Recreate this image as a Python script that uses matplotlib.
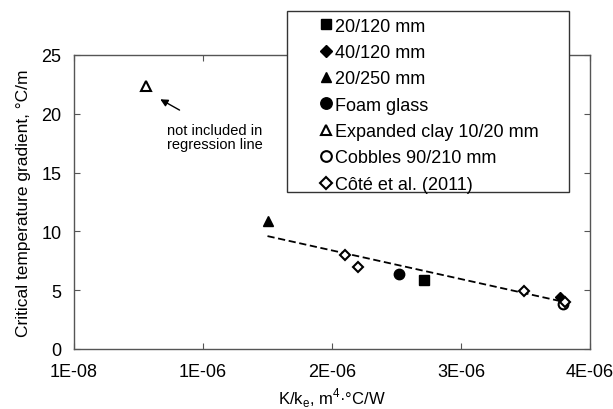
import matplotlib
matplotlib.use("Agg")
import matplotlib.pyplot as plt
from matplotlib.patches import Rectangle

plt.rcParams['font.family'] = ['Liberation Sans', 'DejaVu Sans']

# data (x in m4·°C/W, y in °C/m)
sq_x, sq_y = [2.71e-6], [5.9]
fd_x, fd_y = [3.765e-6], [4.45]
ft_x, ft_y = [1.505e-6], [10.9]
fc_x, fc_y = [2.52e-6], [6.4]
ot_x, ot_y = [0.556e-6], [22.4]
oc_x, oc_y = [3.79e-6], [3.85]
od_x = [2.10e-6, 2.20e-6, 3.49e-6, 3.81e-6]
od_y = [7.97, 6.95, 4.95, 4.0]
reg_x = [1.5e-6, 3.82e-6]
reg_y = [9.6, 3.95]

labels = ['20/120 mm', '40/120 mm', '20/250 mm', 'Foam glass',
          'Expanded clay 10/20 mm', 'Cobbles 90/210 mm', 'Côté et al. (2011)']
xticks = [0, 1e-6, 2e-6, 3e-6, 4e-6]
xticklabels = ['1E-08', '1E-06', '2E-06', '3E-06', '4E-06']
yticks = [0, 5, 10, 15, 20, 25]

fig = plt.figure(figsize=(6.13, 4.10), dpi=100)
ax = fig.add_axes([74/613, 60/410, (590-74)/613, (350-56)/410])

ax.plot(reg_x, reg_y, ls=(0, (4, 2)), color='black', lw=1.3, zorder=2)

h1, = ax.plot(sq_x, sq_y, 's', color='black', ms=7, ls='none')
h2, = ax.plot(fd_x, fd_y, 'D', color='black', ms=5.5, ls='none')
h3, = ax.plot(ft_x, ft_y, '^', color='black', ms=7, ls='none')
h4, = ax.plot(fc_x, fc_y, 'o', color='black', ms=7.5, ls='none')
h5, = ax.plot(ot_x, ot_y, '^', mfc='white', mec='black', mew=1.5, ms=7, ls='none')
h6, = ax.plot(oc_x, oc_y, 'o', mfc='white', mec='black', mew=1.5, ms=7, ls='none')
h7, = ax.plot(od_x, od_y, 'D', mfc='white', mec='black', mew=1.5, ms=5.5, ls='none')

ax.set_xlim(0, 4e-6)
ax.set_ylim(0, 25)
ax.set_xticks(xticks)
ax.set_xticklabels(xticklabels)
ax.set_yticks(yticks)
ax.tick_params(direction='in', top=True, right=True, labelsize=13,
               length=4, color='#555555')
ax.tick_params(axis='x', pad=10)
ax.tick_params(axis='y', pad=9)
for s in ax.spines.values():
    s.set_color('#555555')
    s.set_linewidth(1.0)

ax.set_ylabel('Critical temperature gradient, °C/m', fontsize=12.5)
ax.yaxis.set_label_coords(-(74 - 24) / 516, 0.5)
ax.set_xlabel('K/k$_\\mathregular{e}$, m$^\\mathregular{4}$·°C/W', fontsize=12)
ax.xaxis.set_label_coords(0.5, -(398 - 350) / 294)
ax.xaxis.label.set_va('center')
ax.yaxis.label.set_va('center')

ax.annotate('', xy=(0.65e-6, 21.35), xytext=(0.837e-6, 20.2),
            arrowprops=dict(arrowstyle='-|>', color='black', lw=1.0,
                            mutation_scale=11))
ax.text(0.72e-6, 18.0, 'not included in\nregression line', fontsize=10.5,
        va='center', ha='left', linespacing=1.0)

# legend box
fig.patches.append(Rectangle((287/613, 1 - 193/410), (569-287)/613, (193-12)/410,
                             transform=fig.transFigure, fill=True, facecolor='white',
                             edgecolor='#333333', lw=1.0, zorder=5))
leg = fig.legend([h1, h2, h3, h4, h5, h6, h7], labels,
                 loc='upper left', bbox_to_anchor=(319.7/613, 1 - 18.5/410),
                 frameon=False, fontsize=13,
                 handlelength=0.7, handletextpad=0.15, labelspacing=0.52,
                 borderpad=0, markerscale=1.1, borderaxespad=0)
leg.set_zorder(6)

fig.savefig('out.png', dpi=100)
